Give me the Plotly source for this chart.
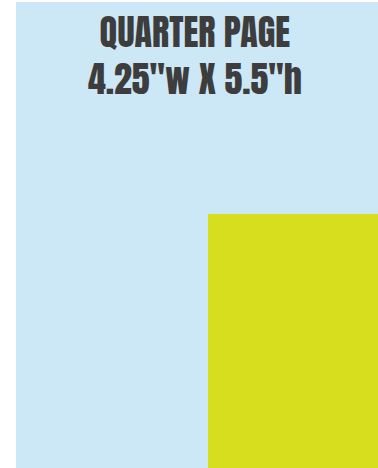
import plotly.graph_objects as go

# Layout blocks of the page diagram (pixel units of the 378x468 canvas)
blocks = ["Full page", "Quarter page"]
block_x0 = [16, 208]
block_x1 = [378, 378]
block_y0 = [2, 214]
block_y1 = [468, 468]
block_colors = ["#CCE7F5", "#D7DE1E"]

title_lines = ["QUARTER PAGE", "4.25\"w X 5.5\"h"]

fig = go.Figure()
for name, x0, x1, y0, y1, c in zip(blocks, block_x0, block_x1, block_y0, block_y1, block_colors):
    fig.add_trace(go.Bar(
        x=[(x0 + x1) / 2], y=[y1 - y0], base=[y0], width=[x1 - x0],
        marker=dict(color=c, line=dict(width=0)), name=name,
        hoverinfo="name", showlegend=False,
    ))

fig.add_annotation(x=195, y=55, xref="x", yref="y", text="<br>".join(title_lines),
                   showarrow=False, xanchor="center", yanchor="middle", align="center",
                   font=dict(family="Anton, Bebas Neue, Oswald, sans-serif", size=36, color="#3D3D3D"))

fig.update_layout(
    width=378, height=468, margin=dict(l=0, r=0, t=0, b=0),
    paper_bgcolor="white", plot_bgcolor="white",
    barmode="overlay", bargap=0,
    xaxis=dict(range=[0, 378], visible=False, fixedrange=True),
    yaxis=dict(range=[468, 0], visible=False, fixedrange=True),
)
fig.write_html("out.html", config={"displayModeBar": False},
               post_script="document.body.style.margin='0px';document.documentElement.style.overflow='hidden';")
